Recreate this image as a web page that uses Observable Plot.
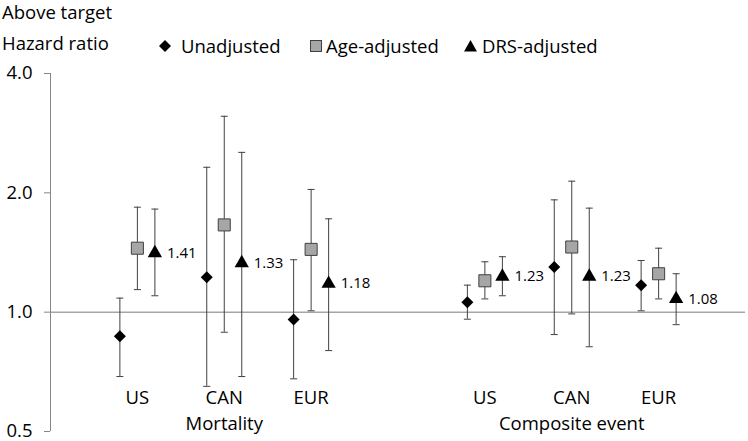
<!DOCTYPE html>
<html><head><meta charset="utf-8">
<script src="https://cdn.jsdelivr.net/npm/d3@7"></script>
<script src="https://cdn.jsdelivr.net/npm/@observablehq/plot@0.6"></script>
<style>
body{margin:0;background:#fff;font-family:"Open Sans","Noto Sans",sans-serif;}
#wrap{position:relative;width:748px;height:441px;overflow:hidden;}
#head{position:relative;height:60px;}
.t{position:absolute;font-size:18.5px;color:#000;white-space:nowrap;line-height:20px;}
.sym{position:absolute;}
</style></head><body>
<div id="wrap">
<div id="head">
<div class="t" style="left:2px;top:2px">Above target</div>
<div class="t" style="left:2px;top:33px">Hazard ratio</div>
<svg class="sym" style="left:159px;top:40px" width="12" height="12"><path d="M6,0L12,6L6,12L0,6Z" fill="#000"/></svg>
<div class="t" style="left:181px;top:36px">Unadjusted</div>
<svg class="sym" style="left:310px;top:40px" width="12" height="12"><rect x="0.5" y="0.5" width="11" height="11" fill="#a6a6a6" stroke="#404040"/></svg>
<div class="t" style="left:326px;top:36px">Age-adjusted</div>
<svg class="sym" style="left:464px;top:40px" width="13" height="12"><path d="M6.5,0L13,11.5L0,11.5Z" fill="#000"/></svg>
<div class="t" style="left:482px;top:36px">DRS-adjusted</div>
</div>
<div id="chart"></div>
</div>
<script>
const categories = ["US","CAN","EUR","US","CAN","EUR"];
const groups = ["Mortality","Mortality","Mortality","Composite event","Composite event","Composite event"];
const groupNames = ["Mortality","Composite event"];
const seriesNames = ["Unadjusted","Age-adjusted","DRS-adjusted"];
const unadj   = [0.87, 1.225, 0.958, 1.06, 1.30, 1.17];
const unadjLo = [0.688, 0.65, 0.679, 0.96, 0.878, 1.008];
const unadjHi = [1.085, 2.32, 1.356, 1.17, 1.92, 1.35];
const age     = [1.45, 1.66, 1.44, 1.20, 1.46, 1.25];
const ageLo   = [1.14, 0.89, 1.008, 1.08, 0.99, 1.08];
const ageHi   = [1.84, 3.12, 2.04, 1.34, 2.14, 1.45];
const drs     = [1.41, 1.33, 1.18, 1.23, 1.23, 1.08];
const drsLo   = [1.10, 0.688, 0.80, 1.10, 0.818, 0.93];
const drsHi   = [1.82, 2.53, 1.72, 1.38, 1.83, 1.25];
const yTicks  = [0.5, 1, 2, 4];

const slot = i => i + 1 + Math.floor(i / 3);
const rows = categories.map((c, i) => ({cat: c, group: groups[i], slot: slot(i)}));
const seriesVals = [[unadj, unadjLo, unadjHi], [age, ageLo, ageHi], [drs, drsLo, drsHi]];
const series = seriesVals.map(([v, lo, hi], k) =>
  categories.map((c, i) => ({series: seriesNames[k], slot: slot(i), v: v[i], lo: lo[i], hi: hi[i]})));
const groupRows = groupNames.map(g => ({group: g, slot: d3.mean(rows.filter(r => r.group === g), r => r.slot)}));

const cap = {draw(ctx, size) { ctx.moveTo(-3.5, 0); ctx.lineTo(3.5, 0); }};
const symbols = ["diamond2", "square", "triangle"];
const fills = ["#000", "#a6a6a6", "#000"];
const strokes = ["none", "#404040", "none"];
const radii = [5.4, 6.8, 5.3];
const step = 17.5;

const marks = [
  Plot.ruleY([1], {stroke: "#a6a6a6", strokeWidth: 1.5}),
  Plot.ruleX([0], {y1: 0.5, y2: 4, stroke: "#868686"}),
  Plot.axisY({ticks: yTicks, tickFormat: d3.format(".1f"), tickSize: 6, tickPadding: 12, stroke: "#868686", fill: "#000", fontSize: 18.5, label: null})
];
series.forEach((data, k) => {
  const dx = (k - 1) * step;
  marks.push(Plot.ruleX(data, {x: "slot", y1: "lo", y2: "hi", dx, stroke: "#404040", strokeWidth: 1}));
  marks.push(Plot.dot(data, {x: "slot", y: "lo", dx, symbol: cap, stroke: "#404040", strokeWidth: 1, r: 4}));
  marks.push(Plot.dot(data, {x: "slot", y: "hi", dx, symbol: cap, stroke: "#404040", strokeWidth: 1, r: 4}));
  marks.push(Plot.dot(data, {x: "slot", y: "v", dx, symbol: symbols[k], fill: fills[k], stroke: strokes[k], strokeWidth: 1, r: radii[k]}));
});
marks.push(Plot.text(series[2], {x: "slot", y: "v", text: d => d.v.toFixed(2), dx: step + 12, textAnchor: "start", fontSize: 15}));
marks.push(Plot.text(rows, {x: "slot", frameAnchor: "bottom", text: "cat", dy: -28, fontSize: 18.5}));
marks.push(Plot.text(groupRows, {x: "slot", frameAnchor: "bottom", text: "group", dy: -2, fontSize: 18.5}));

const chart = Plot.plot({
  width: 748, height: 381,
  marginLeft: 50, marginRight: 3, marginTop: 13, marginBottom: 10,
  style: {fontFamily: '"Open Sans", "Noto Sans", sans-serif', fontSize: "18.5px", background: "#fff", color: "#000"},
  x: {type: "linear", domain: [0, 8], axis: null},
  y: {type: "log", domain: [0.5, 4], axis: null},
  marks
});
document.getElementById("chart").appendChild(chart);
</script>
</body></html>
